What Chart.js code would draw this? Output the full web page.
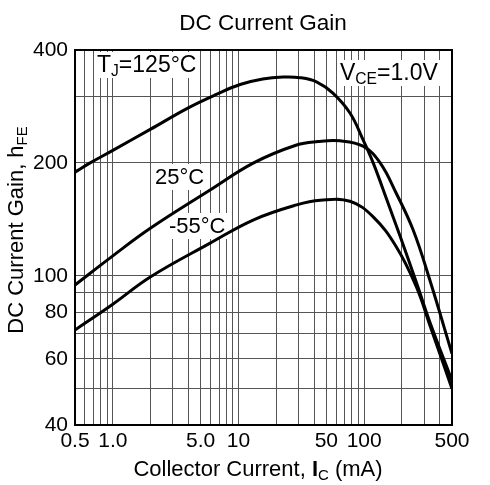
<!DOCTYPE html>
<html>
<head>
<meta charset="utf-8">
<script src="https://cdn.jsdelivr.net/npm/chart.js@4/dist/chart.umd.min.js"></script>
<style>
html,body{margin:0;padding:0;background:#fff;}
canvas{display:block;}
</style>
</head>
<body>
<canvas id="c" width="490" height="485"></canvas>
<script>
// ---- data ----
const ic125 = [0.5, 0.66, 1, 2, 3.95, 6.74, 10.3, 15.6, 22.6, 30.9, 42.1, 56.4, 77.1, 98.3, 118, 152, 193, 263, 333, 500];
const hfe125 = [189, 200, 216, 246, 280, 305, 323.6, 334.8, 338.8, 337.5, 328.6, 307, 271.6, 230, 200, 159, 127.6, 95.1, 75.3, 52.5];

const ic25 = [0.5, 1, 2, 5.9, 13.2, 29, 42.9, 64.2, 98, 134, 180, 245.5, 333, 500];
const hfe25 = [94.5, 113, 134, 169, 200, 223.2, 228, 229, 221.6, 200, 166, 132.4, 97.4, 62];

const icM55 = [0.5, 1, 2, 5.9, 13.2, 29, 45, 77, 118, 180, 260, 337, 500];
const hfeM55 = [71.7, 84, 99.4, 122, 141, 154.5, 159, 158, 143.6, 119.5, 93.5, 73, 50];

const xTickValues = [0.5,0.6,0.7,0.8,0.9,1,2,3,4,5,6,7,8,9,10,20,30,40,50,60,70,80,90,100,200,300,400,500];
const xTickLabels = ['0.5','','','','','1.0','','','','5.0','','','','','10','','','','50','','','','','100','','','','500'];
const yTickValues = [40,50,60,70,80,90,100,200,300,400];
const yTickLabels = ['40','','60','','80','','100','200','','400'];

const FONT = 'Liberation Sans, Arial, Helvetica, sans-serif';

function toPts(xs, ys){ return xs.map((x,i)=>({x:x, y:ys[i]})); }

function richWidth(ctx, parts, size){
  let w = 0;
  for (const p of parts){
    const s = p.sub ? size*0.68 : size;
    ctx.font = (p.bold?'bold ':'') + s + 'px ' + FONT;
    w += ctx.measureText(p.t).width;
  }
  return w;
}
function drawRich(ctx, parts, x, y, size, align){
  const w = richWidth(ctx, parts, size);
  let cx = align === 'center' ? x - w/2 : (align === 'right' ? x - w : x);
  ctx.textAlign = 'left';
  ctx.textBaseline = 'alphabetic';
  for (const p of parts){
    const s = p.sub ? size*0.68 : size;
    ctx.font = (p.bold?'bold ':'') + s + 'px ' + FONT;
    ctx.fillText(p.t, cx, p.sub ? y + size*0.18 : y);
    cx += ctx.measureText(p.t).width;
  }
  return w;
}

const decor = {
  id: 'decor',
  beforeDatasetsDraw(chart){
    const ctx = chart.ctx;
    ctx.save();
    const boxes = [
      {parts:[{t:'T'},{t:'J',sub:true},{t:'=125°C'}], x:97, y:72, size:23},
      {parts:[{t:'V'},{t:'CE',sub:true},{t:'=1.0V'}], x:340, y:80, size:23},
      {parts:[{t:'25°C'}], x:155, y:184, size:22},
      {parts:[{t:'-55°C'}], x:169, y:233, size:22}
    ];
    for (const b of boxes){
      const w = richWidth(ctx, b.parts, b.size);
      ctx.fillStyle = '#fff';
      ctx.fillRect(b.x - 3, b.y - 20, w + 6, 26);
      ctx.fillStyle = '#000';
      drawRich(ctx, b.parts, b.x, b.y, b.size, 'left');
    }
    ctx.restore();
  },
  afterDraw(chart){
    const ctx = chart.ctx;
    const a = chart.chartArea;
    ctx.save();
    ctx.strokeStyle = '#000';
    ctx.lineWidth = 2;
    ctx.strokeRect(a.left, a.top, a.right - a.left, a.bottom - a.top);
    ctx.fillStyle = '#000';
    ctx.font = '22.5px ' + FONT;
    ctx.textAlign = 'center';
    ctx.textBaseline = 'alphabetic';
    ctx.fillText('DC Current Gain', 263, 30);
    drawRich(ctx, [{t:'Collector Current, '},{t:'I',bold:true},{t:'C',sub:true},{t:' (mA)'}], 258, 476, 22, 'center');
    ctx.translate(23, 230);
    ctx.rotate(-Math.PI/2);
    drawRich(ctx, [{t:'DC Current Gain, h'},{t:'FE',sub:true}], 0, 0, 22, 'center');
    ctx.restore();
  }
};

const lineStyle = {borderColor:'#000', borderWidth:3, pointRadius:0, fill:false, tension:0.4};

new Chart(document.getElementById('c'), {
  type: 'line',
  data: {
    datasets: [
      Object.assign({label:'125°C', data: toPts(ic125, hfe125)}, lineStyle),
      Object.assign({label:'25°C', data: toPts(ic25, hfe25)}, lineStyle),
      Object.assign({label:'-55°C', data: toPts(icM55, hfeM55)}, lineStyle)
    ]
  },
  options: {
    responsive: false,
    animation: false,
    devicePixelRatio: 1,
    layout: {padding: {top: 50, right: 38, left: 0, bottom: 0}},
    plugins: {legend: {display:false}, tooltip: {enabled:false}, title:{display:false}},
    scales: {
      x: {
        type: 'logarithmic',
        min: 0.5, max: 500,
        afterBuildTicks(s){ s.ticks = xTickValues.map(v => ({value: v})); },
        afterFit(s){ s.height = 60; },
        grid: {color:'#555', lineWidth:1, drawTicks:false},
        border: {display:false},
        ticks: {
          autoSkip:false, maxRotation:0, minRotation:0, padding:4,
          color:'#000', font:{family:FONT, size:21},
          callback(v, i){ return xTickLabels[i]; }
        }
      },
      y: {
        type: 'logarithmic',
        min: 40, max: 400,
        afterBuildTicks(s){ s.ticks = yTickValues.map(v => ({value: v})); },
        afterFit(s){ s.width = 75; },
        grid: {color:'#555', lineWidth:1, drawTicks:false},
        border: {display:false},
        ticks: {
          autoSkip:false, padding:7,
          color:'#000', font:{family:FONT, size:21},
          callback(v, i){ return yTickLabels[i]; }
        }
      }
    }
  },
  plugins: [decor]
});
</script>
</body>
</html>
